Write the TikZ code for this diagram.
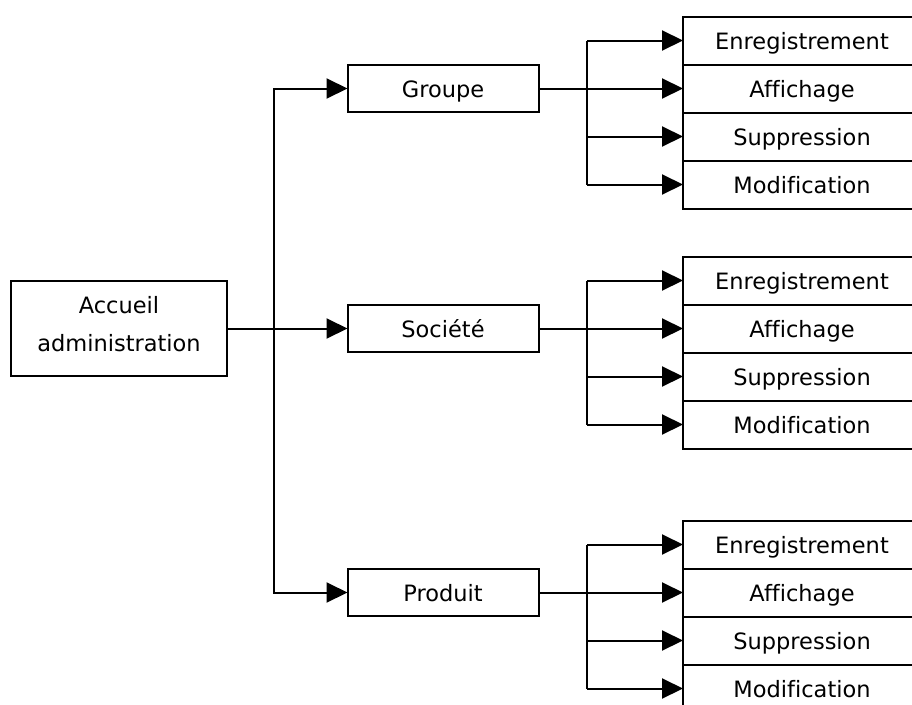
\documentclass[tikz,border=0pt]{standalone}
\usepackage{fontspec}
\setmainfont[Ligatures=NoCommon]{DejaVu Sans}
\usetikzlibrary{arrows.meta}
\begin{document}
\begin{tikzpicture}[x=1pt,y=-1pt,
  txt/.style={font=\fontsize{22.5}{27}\selectfont},
  box/.style={draw, line width=2pt, minimum width=#1, minimum height=47pt, inner sep=0pt, outer sep=0pt, txt, text height=19.5pt, text depth=1.5pt},
  box/.default=191pt,
  sub/.style={box=238pt, minimum height=48pt},
  conn/.style={line width=2pt},
  arr/.style={conn, -{Triangle[length=21pt,width=20pt]}}]
\path[use as bounding box, clip] (0,0) rectangle (912,704);
\node[draw, line width=2pt, outer sep=0pt, minimum width=216pt, minimum height=95pt, inner sep=0pt] (acc) at (119,328.5) {};
\node[txt, anchor=base, inner sep=0pt] (acc1) at (119,313.3) {Accueil};
\node[txt, anchor=base, inner sep=0pt] (acc2) at (119,351.7) {administration};
\node[box] (grp) at (443,88.5) {Groupe};
\node[box] (soc) at (443,328.5) {Société};
\node[box] (pro) at (443,592.5) {Produit};
\coordinate (jA) at (274,328.5);
\draw[conn] (acc.east) -- (jA);
\foreach \n in {grp,soc,pro}{
  \draw[arr] (jA) |- (\n.west);
}
\foreach \g/\y/\p in {g/40.5/grp, s/280.5/soc, p/544.5/pro}{
  \node[sub] (\g1) at (802,\y) {Enregistrement};
  \node[sub] (\g2) at (802,\y+48) {Affichage};
  \node[sub] (\g3) at (802,\y+96) {Suppression};
  \node[sub] (\g4) at (802,\y+144) {Modification};
  \draw[arr] (\p.east) -- (\p.east -| \g2.west);
  \coordinate (j\g) at (587,0);
  \draw[arr] (j\g |- \g1.west) -- (\g1.west);
  \draw[conn] (j\g |- \g1.west) -- (j\g |- \g4.west);
  \draw[arr] (j\g |- \g3.west) -- (\g3.west);
  \draw[arr] (j\g |- \g4.west) -- (\g4.west);
}
\end{tikzpicture}
\end{document}
